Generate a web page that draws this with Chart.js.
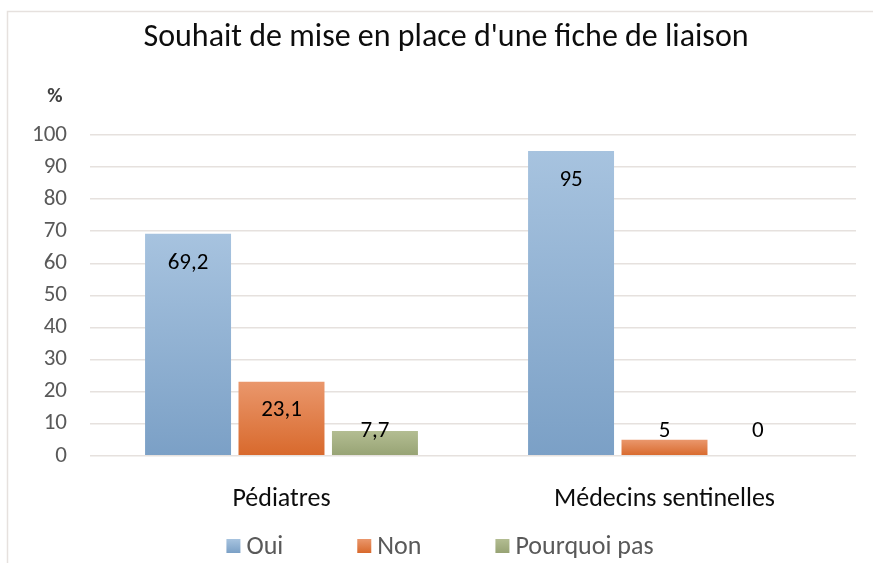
<!DOCTYPE html>
<html>
<head>
<meta charset="utf-8">
<script src="https://cdn.jsdelivr.net/npm/chart.js@4.4.0/dist/chart.umd.min.js"></script>
<style>
  html, body { margin: 0; padding: 0; background: #fff; }
  #wrap { width: 873px; height: 563px; position: relative; }
</style>
</head>
<body>
<div id="wrap"><canvas id="barChart"></canvas></div>
<script>
// Données
const categories = ['Pédiatres', 'Médecins sentinelles'];
const seriesNames = ['Oui', 'Non', 'Pourquoi pas'];
const ouiValues = [69.2, 95];
const nonValues = [23.1, 5];
const pasValues = [7.7, 0];
const yTickValues = [0, 10, 20, 30, 40, 50, 60, 70, 80, 90, 100];
const chartTitle = "Souhait de mise en place d'une fiche de liaison";

const FONT = 'Carlito, Lato, sans-serif';

// dégradé vertical par barre (clair en haut, foncé en bas)
function barGradient(top, bottom) {
    return function (c) {
        const chart = c.chart;
        const y = chart.scales.y;
        if (!y || !c.parsed) return bottom;
        const y0 = y.getPixelForValue(0);
        const y1 = y.getPixelForValue(c.parsed.y);
        if (!Number.isFinite(y0) || !Number.isFinite(y1) || y0 - y1 < 1) return bottom;
        const g = chart.ctx.createLinearGradient(0, y1, 0, y0);
        g.addColorStop(0, top);
        g.addColorStop(1, bottom);
        return g;
    };
}

const colors = [
    ['#a7c3df', '#7ba0c6'],
    ['#ea976c', '#d8692c'],
    ['#b3bd92', '#97a374']
];

// étiquettes de valeurs (extrémité intérieure)
const valueLabels = {
    id: 'valueLabels',
    afterDatasetsDraw(chart) {
        const { ctx, scales: { y } } = chart;
        const base = y.getPixelForValue(0);
        ctx.save();
        ctx.font = '23px ' + FONT;
        ctx.fillStyle = '#000';
        ctx.textAlign = 'center';
        ctx.textBaseline = 'middle';
        chart.data.datasets.forEach((ds, i) => {
            chart.getDatasetMeta(i).data.forEach((bar, j) => {
                const v = ds.data[j];
                const cy = Math.min(bar.y + 29, base - 25);
                ctx.fillText(String(v).replace('.', ','), bar.x, cy);
            });
        });
        ctx.restore();
    }
};

// cadre, titre, "%" et légende
const decor = {
    id: 'decor',
    afterDraw(chart) {
        const ctx = chart.ctx;
        ctx.save();
        ctx.strokeStyle = '#e6e1de';
        ctx.lineWidth = 1.5;
        ctx.beginPath();
        ctx.moveTo(7.5, 563);
        ctx.lineTo(7.5, 11.5);
        ctx.lineTo(873, 11.5);
        ctx.stroke();

        ctx.font = '32px ' + FONT;
        ctx.fillStyle = '#0d0d0d';
        ctx.textAlign = 'center';
        ctx.textBaseline = 'middle';
        ctx.fillText(chartTitle, 446, 38);

        ctx.font = 'bold 21px ' + FONT;
        ctx.fillStyle = '#404040';
        ctx.fillText('%', 55, 97);

        // légende
        ctx.font = '26px ' + FONT;
        const box = 14, gap = 6, spacing = 74;
        const widths = chart.data.datasets.map(d => box + gap + ctx.measureText(d.label).width);
        const total = widths.reduce((a, b) => a + b, 0) + spacing * (widths.length - 1);
        let x = 440 - total / 2;
        const cy = 546;
        ctx.textAlign = 'left';
        chart.data.datasets.forEach((d, i) => {
            const g = ctx.createLinearGradient(0, cy - box / 2, 0, cy + box / 2);
            g.addColorStop(0, colors[i][0]);
            g.addColorStop(1, colors[i][1]);
            ctx.fillStyle = g;
            ctx.fillRect(x, cy - box / 2, box, box);
            ctx.fillStyle = '#595959';
            ctx.fillText(d.label, x + box + gap, cy + 1);
            x += widths[i] + spacing;
        });
        ctx.restore();
    }
};

const seriesData = [ouiValues, nonValues, pasValues];

new Chart(document.getElementById('barChart'), {
    type: 'bar',
    data: {
        labels: categories,
        datasets: seriesNames.map((name, i) => ({
            label: name,
            data: seriesData[i],
            backgroundColor: barGradient(colors[i][0], colors[i][1]),
            borderWidth: 0,
            categoryPercentage: 0.732,
            barPercentage: 0.92
        }))
    },
    options: {
        responsive: true,
        maintainAspectRatio: false,
        animation: false,
        layout: { padding: { left: 7, right: 17, top: 135, bottom: 28 } },
        plugins: {
            legend: { display: false },
            tooltip: { enabled: false },
            title: { display: false }
        },
        scales: {
            x: {
                grid: { display: false },
                border: { display: false },
                ticks: {
                    color: '#0d0d0d',
                    font: { family: FONT, size: 26 },
                    padding: 20
                }
            },
            y: {
                min: 0,
                max: 100,
                afterBuildTicks(scale) {
                    scale.ticks = yTickValues.map(v => ({ value: v }));
                },
                afterFit(scale) { scale.width = 83; },
                grid: { color: '#e6e1de', lineWidth: 1.5, drawTicks: false },
                border: { display: false },
                ticks: {
                    color: '#595959',
                    font: { family: FONT, size: 23 },
                    padding: 23
                }
            }
        }
    },
    plugins: [valueLabels, decor]
});
</script>
</body>
</html>
